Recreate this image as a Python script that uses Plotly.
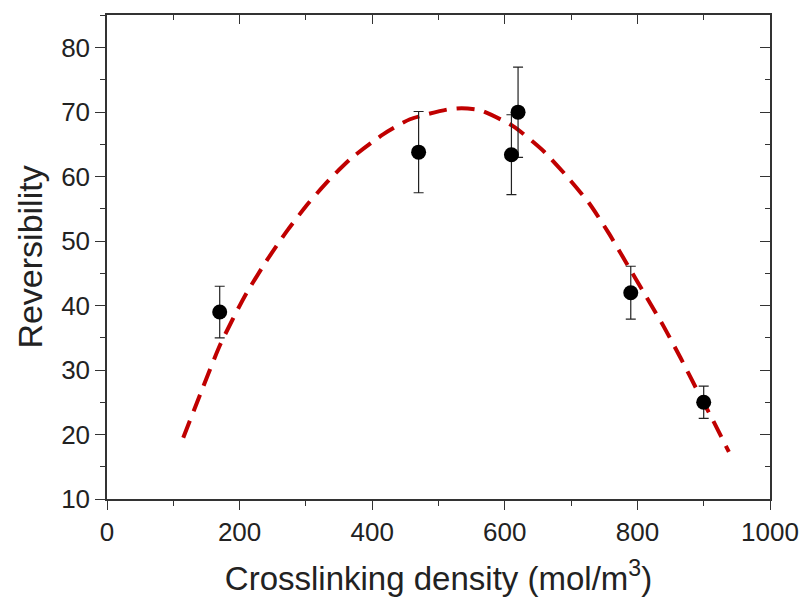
import plotly.graph_objects as go

# Measured data points
density = [170, 470, 610, 620, 790, 900]
reversibility = [39.0, 63.8, 63.4, 70.0, 42.0, 25.0]
rev_err = [4.0, 6.3, 6.2, 7.0, 4.1, 2.5]

# Fit curve
fit_x = [115, 145, 171, 208, 241, 271, 304, 337, 369, 417, 457, 513, 535, 563,
         613, 659, 694, 727, 757, 784, 812, 840, 865, 890, 915, 938]
fit_y = [19.5, 27.4, 34.0, 41.5, 47.0, 51.5, 55.9, 59.7, 62.9, 66.6, 68.9, 70.4, 70.6, 70.3,
         67.8, 63.9, 60.0, 55.9, 51.2, 46.5, 41.6, 36.7, 31.9, 26.9, 22.0, 17.3]

x_ticks = [0, 200, 400, 600, 800, 1000]
y_ticks = [10, 20, 30, 40, 50, 60, 70, 80]

FONT = "Liberation Sans, Arial, sans-serif"
AX = "#333333"

fig = go.Figure()
fig.add_trace(go.Scatter(
    x=fit_x, y=fit_y, mode="lines",
    line=dict(color="#c00000", width=4, dash="18px,10px", shape="spline", smoothing=0.6),
    showlegend=False, hoverinfo="skip"))
fig.add_trace(go.Scatter(
    x=density, y=reversibility, mode="markers",
    marker=dict(color="black", size=15),
    error_y=dict(type="data", array=rev_err, color="#222222", thickness=1.2, width=5),
    showlegend=False))
# invisible trace for mirror axes
fig.add_trace(go.Scatter(x=[None], y=[None], xaxis="x2", yaxis="y2", showlegend=False))

common = dict(showline=True, linecolor=AX, linewidth=1.5, showgrid=False, zeroline=False,
              tickcolor=AX, tickwidth=1.3, automargin=False)

fig.update_layout(
    width=803, height=603,
    margin=dict(l=107, r=33, t=15, b=104),
    plot_bgcolor="white", paper_bgcolor="white",
    font=dict(family=FONT, color="#222222"),
    xaxis=dict(range=[0, 1000], tickvals=x_ticks, ticks="outside", ticklen=9,
               minor=dict(ticks="outside", ticklen=5, dtick=100, tick0=0, tickcolor=AX),
               tickfont=dict(size=26),
               title=dict(text="Crosslinking density (mol/m<sup>3</sup>)",
                          font=dict(size=33), standoff=21),
               **common),
    yaxis=dict(range=[10, 85.07], tickvals=y_ticks, ticks="outside", ticklen=10,
               minor=dict(ticks="outside", ticklen=5, dtick=5, tick0=0, tickcolor=AX),
               tickfont=dict(size=26),
               title=dict(text="Reversibility", font=dict(size=34), standoff=8),
               **common),
    xaxis2=dict(overlaying="x", side="top", range=[0, 1000], tickvals=x_ticks,
                ticks="inside", ticklen=9, showticklabels=False,
                minor=dict(ticks="inside", ticklen=5, dtick=100, tick0=0, tickcolor=AX),
                **common),
    yaxis2=dict(overlaying="y", side="right", range=[10, 85.07], tickvals=y_ticks,
                ticks="inside", ticklen=10, showticklabels=False,
                minor=dict(ticks="inside", ticklen=5, dtick=5, tick0=0, tickcolor=AX),
                **common),
)

fig.write_html("out.html")
